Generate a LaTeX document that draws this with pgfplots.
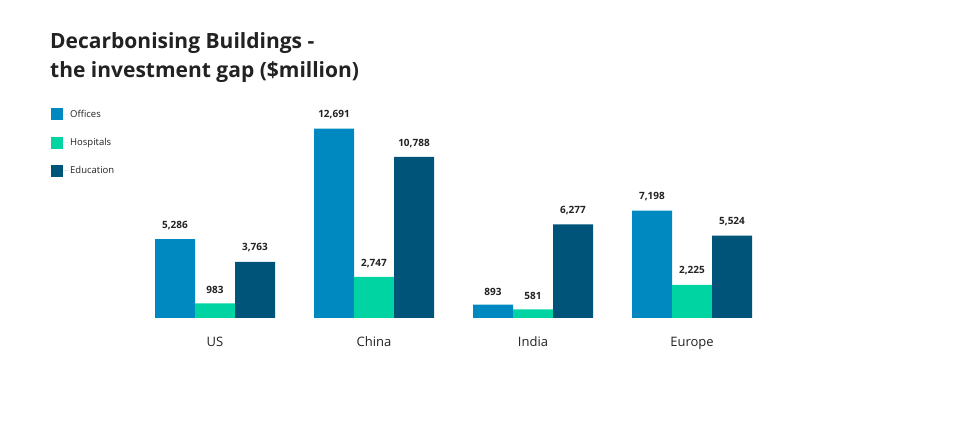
\documentclass[border=0pt]{standalone}
\usepackage{pgfplots}
\pgfplotsset{compat=1.18}
\usepackage{fontspec}
\setmainfont{Open Sans}

\definecolor{offices}{HTML}{0088C0}
\definecolor{hospitals}{HTML}{00D4A2}
\definecolor{education}{HTML}{005479}
\definecolor{txt}{HTML}{222222}

\begin{document}
\begin{tikzpicture}[x=1pt,y=1pt]
% page frame 964 x 428
\path[fill=white] (0,0) rectangle (964,428);
\node[anchor=north west, align=left, font=\fontsize{21}{29}\selectfont\bfseries, text=txt, inner sep=0pt]
  at (50,396) {Decarbonising Buildings -\\the investment gap (\$million)};
\begin{axis}[
  at={(135.5pt,110pt)}, anchor=south west,
  scale only axis,
  width=636pt, height=209pt,
  xmin=-0.5, xmax=3.5, ymin=0, ymax=14000,
  axis lines=none,
  ybar=0pt, bar width=40pt,
  xtick=\empty, ytick=\empty,
  clip=false,
  /pgf/number format/assume math mode=true,
  /pgf/number format/1000 sep={,},
  nodes near coords,
  nodes near coords style={font=\fontsize{10}{12}\selectfont\bfseries, text=txt, anchor=south, yshift=6pt},
  every axis plot/.append style={draw=none},
  legend image code/.code={\fill[#1] (0pt,-6pt) rectangle (12pt,6pt); \path (0pt,0pt) -- (17pt,0pt);},
  legend style={at={(-0.1376,1.015)}, anchor=north west, draw=none, fill=none,
    font=\fontsize{9.5}{11}\selectfont, text=txt, row sep=15.5pt},
  legend cell align=left,
]
\node[font=\fontsize{13}{15}\selectfont, text=txt, anchor=base] at (axis cs:0,0) [yshift=-29pt] {US};
\node[font=\fontsize{13}{15}\selectfont, text=txt, anchor=base] at (axis cs:1,0) [yshift=-29pt] {China};
\node[font=\fontsize{13}{15}\selectfont, text=txt, anchor=base] at (axis cs:2,0) [yshift=-29pt] {India};
\node[font=\fontsize{13}{15}\selectfont, text=txt, anchor=base] at (axis cs:3,0) [yshift=-29pt] {Europe};
\addplot[fill=offices] coordinates {(0,5286) (1,12691) (2,893) (3,7198)};
\addplot[fill=hospitals] coordinates {(0,983) (1,2747) (2,581) (3,2225)};
\addplot[fill=education] coordinates {(0,3763) (1,10788) (2,6277) (3,5524)};
\legend{Offices,Hospitals,Education}
\end{axis}
\end{tikzpicture}
\end{document}
